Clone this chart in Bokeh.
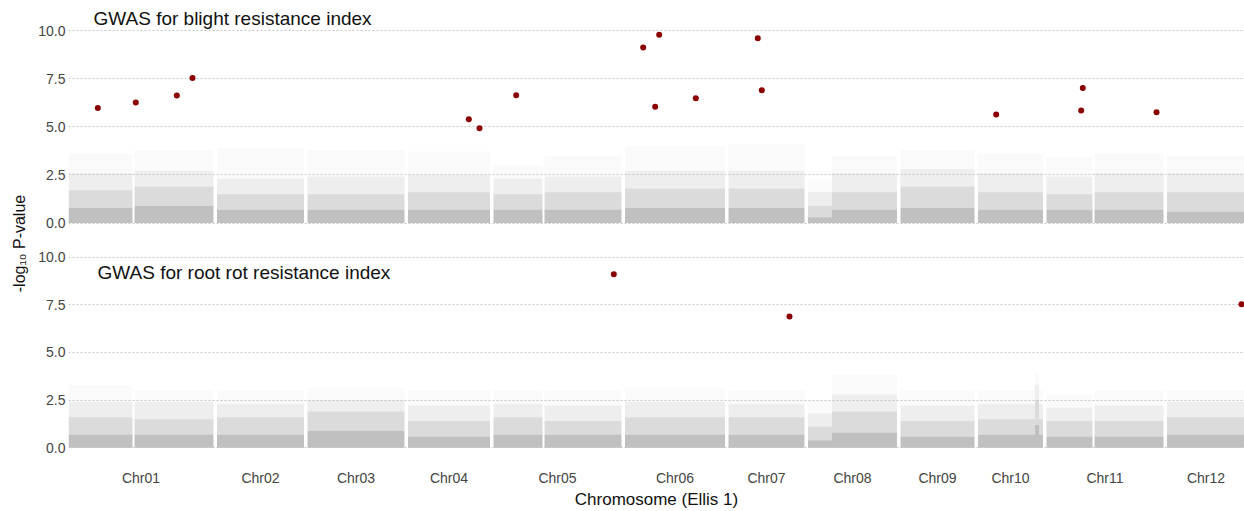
import numpy as np
from bokeh.plotting import figure
from bokeh.models import Range1d, FixedTicker, Label, PrintfTickFormatter
from bokeh.layouts import row, column
from bokeh.embed import file_html
from bokeh.resources import INLINE

# ---------------- data ----------------
chromosomes = ["Chr01", "Chr02", "Chr03", "Chr04", "Chr05", "Chr06",
               "Chr07", "Chr08", "Chr09", "Chr10", "Chr11", "Chr12"]
chrom_length_mb = [145, 87, 97, 82, 128, 100, 76, 89, 74, 65, 117, 78]
chrom_gap_mb = 3.5

# significant SNPs, blight resistance index
blight_chrom = ["Chr01", "Chr01", "Chr01", "Chr01", "Chr04", "Chr04", "Chr05",
                "Chr06", "Chr06", "Chr06", "Chr06", "Chr07", "Chr07", "Chr10",
                "Chr11", "Chr11", "Chr11"]
blight_pos_mb = [29.3, 67.3, 108.3, 124.0, 60.8, 71.5, 22.7, 18.2, 34.2, 30.2,
                 70.8, 29.3, 33.3, 18.2, 36.3, 34.7, 110.0]
blight_logp = [5.98, 6.26, 6.62, 7.54, 5.39, 4.92, 6.64, 9.12, 9.78, 6.04,
               6.48, 9.60, 6.90, 5.64, 7.02, 5.84, 5.76]

# significant SNPs, root rot resistance index
rootrot_chrom = ["Chr05", "Chr07", "Chr12"]
rootrot_pos_mb = [120.3, 61.0, 74.5]
rootrot_logp = [9.10, 6.89, 7.53]

# background (non-significant) SNP cloud, summarised as density envelopes
seg_chrom = ["Chr01", "Chr01", "Chr02", "Chr03", "Chr04", "Chr05", "Chr05",
             "Chr06", "Chr07", "Chr08", "Chr08", "Chr09", "Chr10", "Chr10",
             "Chr10", "Chr11", "Chr11", "Chr12"]
seg_start_mb = [0, 66, 0, 0, 0, 0, 51, 0, 0, 0, 24, 0, 0, 57, 61, 0, 48, 0]
seg_end_mb = [64, 145, 87, 97, 82, 49, 128, 100, 76, 24, 89, 74, 57, 61, 65, 46, 117, 78]

blight_dense = [0.8, 0.9, 0.7, 0.7, 0.7, 0.7, 0.7, 0.8, 0.8, 0.3, 0.7, 0.8, 0.7, 0.7, 0.7, 0.7, 0.7, 0.6]
blight_mid = [1.7, 1.9, 1.5, 1.5, 1.6, 1.5, 1.6, 1.8, 1.8, 0.9, 1.6, 1.9, 1.6, 1.6, 1.6, 1.5, 1.6, 1.6]
blight_light = [2.6, 2.7, 2.3, 2.4, 2.5, 2.3, 2.4, 2.7, 2.7, 1.6, 2.6, 2.8, 2.6, 2.6, 2.6, 2.4, 2.6, 2.6]
blight_sparse = [3.6, 3.8, 3.9, 3.8, 3.7, 3.0, 3.5, 4.0, 4.1, 2.2, 3.5, 3.8, 3.6, 3.6, 3.6, 3.4, 3.6, 3.5]

rootrot_dense = [0.7, 0.7, 0.7, 0.9, 0.6, 0.7, 0.7, 0.7, 0.7, 0.4, 0.8, 0.6, 0.7, 1.2, 0.7, 0.6, 0.6, 0.7]
rootrot_mid = [1.6, 1.5, 1.6, 1.9, 1.4, 1.6, 1.4, 1.6, 1.6, 1.1, 1.9, 1.4, 1.5, 2.5, 1.5, 1.4, 1.4, 1.6]
rootrot_light = [2.4, 2.4, 2.3, 2.5, 2.2, 2.3, 2.2, 2.4, 2.3, 1.8, 2.8, 2.2, 2.3, 3.3, 2.3, 2.1, 2.2, 2.4]
rootrot_sparse = [3.3, 3.0, 3.0, 3.1, 3.0, 3.0, 3.0, 3.1, 3.0, 2.5, 3.8, 3.0, 3.0, 3.9, 3.0, 2.8, 3.0, 3.0]

y_ticks = [0.0, 2.5, 5.0, 7.5, 10.0]

# ---------------- layout helpers ----------------
lengths = np.array(chrom_length_mb, dtype=float)
offsets = np.concatenate([[0.0], np.cumsum(lengths + chrom_gap_mb)[:-1]])
chrom_offset = dict(zip(chromosomes, offsets))
centers = offsets + lengths / 2.0
genome_end = 1176.0

FONT = "Liberation Sans"
CLOUD = "#bdbdbd"
HIT = "#8b0000"


def cum(chroms, pos):
    return [chrom_offset[c] + p for c, p in zip(chroms, pos)]


def make_panel(height, y_range, dense, mid, light, sparse, hit_chrom, hit_pos, hit_logp,
               title_text, title_x, title_y, show_x):
    p = figure(width=1214, height=height, x_range=Range1d(0, genome_end),
               y_range=y_range, toolbar_location=None, output_backend="svg",
               min_border_left=38, min_border_right=0, min_border_top=0,
               min_border_bottom=0)
    p.outline_line_color = None
    p.background_fill_color = "white"
    p.border_fill_color = "white"

    left = cum(seg_chrom, seg_start_mb)
    right = cum(seg_chrom, seg_end_mb)
    zeros = [0.0] * len(left)
    p.quad(left=left, right=right, bottom=zeros, top=dense,
           fill_color=CLOUD, fill_alpha=0.95, line_color=None)
    p.quad(left=left, right=right, bottom=dense, top=mid,
           fill_color=CLOUD, fill_alpha=0.55, line_color=None)
    p.quad(left=left, right=right, bottom=mid, top=light,
           fill_color=CLOUD, fill_alpha=0.25, line_color=None)
    p.quad(left=left, right=right, bottom=light, top=sparse,
           fill_color=CLOUD, fill_alpha=0.08, line_color=None)

    p.scatter(cum(hit_chrom, hit_pos), hit_logp, size=6, color=HIT, line_color=None)

    p.xgrid.visible = False
    p.ygrid.ticker = FixedTicker(ticks=y_ticks)
    p.ygrid.grid_line_color = "#c8c8c8"
    p.ygrid.grid_line_dash = "2 2"
    p.ygrid.grid_line_width = 1

    p.yaxis.ticker = FixedTicker(ticks=y_ticks)
    p.yaxis.formatter = PrintfTickFormatter(format="%.1f")
    p.yaxis.axis_line_color = None
    p.yaxis.major_tick_line_color = None
    p.yaxis.minor_tick_line_color = None
    p.yaxis.major_tick_out = 0
    p.yaxis.major_tick_in = 0
    p.yaxis.minor_tick_out = 0
    p.yaxis.major_label_standoff = 3
    p.yaxis.major_label_text_font = FONT
    p.yaxis.major_label_text_font_size = "14px"
    p.yaxis.major_label_text_color = "#444444"

    if show_x:
        p.xaxis.ticker = FixedTicker(ticks=list(centers))
        p.xaxis.major_label_overrides = {float(c): n for c, n in zip(centers, chromosomes)}
        p.xaxis.axis_line_color = None
        p.xaxis.major_tick_line_color = None
        p.xaxis.minor_tick_line_color = None
        p.xaxis.major_tick_out = 0
        p.xaxis.major_tick_in = 0
        p.xaxis.minor_tick_out = 0
        p.xaxis.major_label_standoff = 11
        p.xaxis.major_label_text_font = FONT
        p.xaxis.major_label_text_font_size = "14px"
        p.xaxis.major_label_text_color = "#444444"
        p.xaxis.axis_label = "Chromosome (Ellis 1)"
        p.xaxis.axis_label_standoff = 1
        p.xaxis.axis_label_text_font = FONT
        p.xaxis.axis_label_text_font_size = "17px"
        p.xaxis.axis_label_text_font_style = "normal"
        p.xaxis.axis_label_text_color = "#111111"
    else:
        p.xaxis.visible = False

    p.add_layout(Label(x=title_x, y=title_y, text=title_text, text_font=FONT,
                       text_font_size="19px", text_color="#111111",
                       text_align="left", text_baseline="middle"))
    return p


top = make_panel(236, Range1d(-0.70, 11.56),
                 blight_dense, blight_mid, blight_light, blight_sparse,
                 blight_chrom, blight_pos_mb, blight_logp,
                 "GWAS for blight resistance index", 25, 10.65, False)
bottom = make_panel(275, Range1d(-0.56, 11.08),
                    rootrot_dense, rootrot_mid, rootrot_light, rootrot_sparse,
                    rootrot_chrom, rootrot_pos_mb, rootrot_logp,
                    "GWAS for root rot resistance index", 29, 9.2, True)

ylab = figure(width=30, height=511, x_range=Range1d(0, 30), y_range=Range1d(0, 511),
              toolbar_location=None, output_backend="svg", min_border=0)
ylab.axis.visible = False
ylab.grid.visible = False
ylab.outline_line_color = None
ylab.add_layout(Label(x=19, y=268, text="-log\u2081\u2080 P-value", angle=np.pi / 2,
                      text_font=FONT, text_font_size="16px", text_color="#111111",
                      text_align="center", text_baseline="middle"))

layout = row(ylab, column(top, bottom))

open("out.html", "w").write(file_html(layout, INLINE))
